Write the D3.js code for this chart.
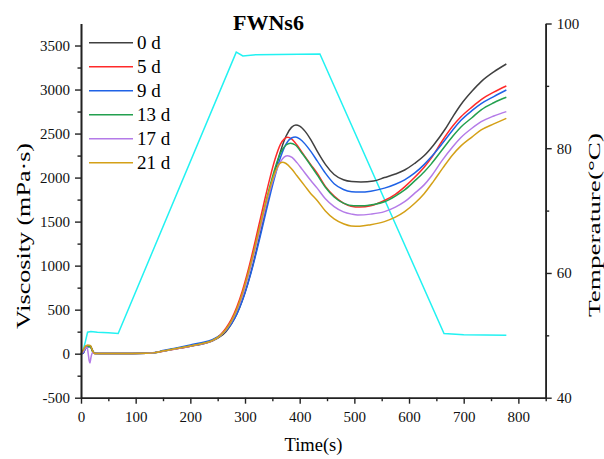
<!DOCTYPE html>
<html>
<head>
<meta charset="utf-8">
<script src="https://cdn.jsdelivr.net/npm/d3@7"></script>
<style>
  body { margin: 0; background: #fff; }
  text { font-family: "Liberation Serif", "Times New Roman", serif; }
</style>
</head>
<body>
<svg id="drawing_region"></svg>
<script>
// series labels and colours
const series_labels = ['0 d', '5 d', '9 d', '13 d', '17 d', '21 d'];
const series_colors = ['#404040', '#ff2a2a', '#1f62e6', '#23a04f', '#b47be8', '#d4a017'];

// viscosity (mPa·s) vs time (s)
const visc_0d = [[0,0],[4,10],[8,70],[12,92],[17,90],[21,40],[25,5],[40,3],[80,3],[120,5],[135,12],[150,30],[170,52],[200,85],[220,108],[240,142],[255,195],[265,250],[275,335],[285,450],[295,605],[305,795],[315,1025],[325,1285],[335,1555],[345,1825],[355,2075],[365,2300],[375,2470],[385,2570],[393,2597],[400,2585],[410,2525],[420,2435],[432,2300],[447,2150],[463,2035],[480,1975],[495,1955],[512,1950],[535,1960],[555,2000],[575,2040],[592,2086],[610,2160],[628,2250],[645,2370],[665,2540],[680,2690],[695,2830],[715,2980],[732,3090],[755,3200],[778,3290]];
const visc_5d = [[0,0],[4,5],[8,60],[12,85],[17,85],[21,30],[25,3],[40,2],[80,2],[120,4],[135,10],[150,28],[170,50],[200,85],[220,112],[240,150],[255,215],[265,290],[275,390],[285,530],[295,710],[305,930],[315,1180],[325,1450],[335,1720],[345,1980],[355,2210],[365,2380],[372,2440],[378,2458],[385,2440],[395,2370],[405,2280],[420,2150],[432,2050],[447,1900],[463,1790],[480,1710],[494,1675],[510,1665],[530,1680],[555,1740],[575,1810],[592,1895],[610,2000],[628,2120],[640,2215],[660,2410],[680,2585],[695,2690],[715,2800],[732,2885],[755,2970],[778,3040]];
const visc_9d = [[0,0],[4,5],[8,55],[12,80],[17,80],[21,30],[25,3],[40,2],[80,2],[120,5],[135,13],[150,35],[170,60],[200,100],[220,125],[240,160],[255,210],[265,260],[275,340],[285,450],[295,600],[305,790],[315,1010],[325,1260],[335,1520],[345,1780],[355,2020],[365,2230],[375,2380],[385,2450],[392,2460],[400,2440],[410,2380],[420,2300],[432,2190],[447,2050],[463,1930],[480,1865],[495,1840],[510,1835],[530,1845],[555,1880],[575,1925],[592,1975],[610,2050],[628,2150],[640,2230],[660,2380],[680,2540],[695,2650],[715,2760],[732,2840],[755,2920],[778,2995]];
const visc_13d = [[0,0],[4,30],[8,60],[12,80],[17,82],[21,30],[25,3],[40,2],[80,2],[120,4],[135,11],[150,30],[170,52],[200,88],[220,112],[240,148],[255,205],[265,270],[275,365],[285,495],[295,665],[305,880],[315,1120],[325,1380],[335,1640],[345,1890],[355,2110],[365,2280],[375,2370],[383,2390],[392,2370],[405,2270],[420,2140],[432,2030],[447,1890],[463,1780],[480,1710],[499,1680],[515,1680],[535,1695],[555,1726],[575,1790],[592,1860],[610,1960],[628,2067],[640,2150],[660,2310],[680,2470],[695,2575],[715,2680],[732,2770],[755,2850],[778,2912]];
const visc_17d = [[0,0],[4,20],[8,60],[11,75],[13,10],[15,-80],[16.5,-105],[18,-50],[21,10],[25,2],[40,2],[80,2],[120,4],[135,10],[150,28],[170,50],[200,85],[220,110],[240,146],[255,205],[265,268],[275,360],[285,490],[295,655],[305,865],[315,1100],[325,1350],[335,1600],[345,1840],[355,2040],[365,2180],[372,2235],[378,2249],[386,2230],[395,2170],[405,2090],[420,1970],[432,1880],[447,1760],[463,1670],[480,1610],[495,1585],[506,1575],[530,1585],[555,1613],[575,1665],[592,1726],[610,1820],[628,1920],[640,2010],[660,2190],[680,2350],[695,2455],[715,2560],[732,2635],[755,2700],[778,2749]];
const visc_21d = [[0,0],[4,40],[8,85],[12,95],[17,92],[21,35],[25,3],[40,2],[80,2],[120,4],[135,12],[150,30],[170,52],[200,88],[220,112],[240,148],[255,208],[265,275],[275,370],[285,505],[295,680],[305,895],[315,1130],[325,1390],[335,1640],[345,1870],[355,2060],[362,2150],[368,2174],[375,2160],[385,2100],[395,2020],[410,1900],[420,1820],[432,1740],[447,1620],[463,1530],[480,1475],[494,1450],[510,1448],[530,1465],[555,1500],[575,1550],[592,1613],[610,1705],[628,1820],[645,1960],[662,2110],[680,2260],[695,2360],[715,2460],[732,2541],[755,2610],[778,2673]];
const visc_series = [visc_0d, visc_5d, visc_9d, visc_13d, visc_17d, visc_21d];

// temperature (°C) vs time (s)
const temperature = [[3,47.3],[8,49.0],[12,50.5],[18,50.6],[30,50.5],[50,50.4],[68,50.3],[284,95.4],[296,94.8],[320,95.0],[437,95.1],[664,50.3],[700,50.1],[778,50.0]];

// axis ticks
const x_ticks = [0, 100, 200, 300, 400, 500, 600, 700, 800];
const x_minor = [50, 150, 250, 350, 450, 550, 650, 750, 850];
const y_ticks = [-500, 0, 500, 1000, 1500, 2000, 2500, 3000, 3500];
const y_minor = [-250, 250, 750, 1250, 1750, 2250, 2750, 3250];
const t_ticks = [40, 60, 80, 100];
const t_minor = [50, 70, 90];

class PastingChart {
    constructor( config ) {
        this.config = config;
        this.init();
    }
    init() {
        let self = this;
        self.svg = d3.select( self.config.parent )
            .attr('width', self.config.width)
            .attr('height', self.config.height);
        self.inner_width = self.config.width - self.config.margin.left - self.config.margin.right;
        self.inner_height = self.config.height - self.config.margin.top - self.config.margin.bottom;
        self.chart = self.svg.append('g')
            .attr('transform', `translate(${self.config.margin.left}, ${self.config.margin.top})`);

        self.xscale = d3.scaleLinear().domain([0, 850]).range([0, self.inner_width]);
        self.yscale = d3.scaleLinear().domain([-500, 3750]).range([self.inner_height, 0]);
        self.tscale = d3.scaleLinear().domain([40, 100]).range([self.inner_height, 0]);
    }
    render() {
        let self = this;
        const ih = self.inner_height, iw = self.inner_width;

        // temperature line
        const tline = d3.line()
            .x(d => self.xscale(d[0]))
            .y(d => self.tscale(d[1]));
        self.chart.append('path')
            .datum(temperature)
            .attr('fill', 'none')
            .attr('stroke', '#22f2f2')
            .attr('stroke-width', 1.5)
            .attr('d', tline);

        // viscosity lines
        const vline = d3.line()
            .curve(d3.curveMonotoneX)
            .x(d => self.xscale(d[0]))
            .y(d => self.yscale(d[1]));
        self.chart.selectAll('.visc')
            .data(visc_series)
            .enter()
            .append('path')
            .attr('class', 'visc')
            .attr('fill', 'none')
            .attr('stroke', (d, i) => series_colors[i])
            .attr('stroke-width', 1.5)
            .attr('d', vline);

        // axes
        const fmt = d => String(d);
        const style_axis = g => {
            g.attr('font-family', '"Liberation Serif", "Times New Roman", serif')
                .attr('font-size', 15);
            g.selectAll('.domain').attr('stroke', '#222').attr('stroke-width', 1.6);
            g.selectAll('.tick line').attr('stroke', '#222').attr('stroke-width', 1.4);
            g.selectAll('.tick text').attr('fill', '#111');
        };
        self.chart.append('g')
            .attr('transform', `translate(0, ${ih})`)
            .call(d3.axisBottom(self.xscale).tickValues(x_minor).tickSize(3.5).tickSizeOuter(0).tickFormat(''))
            .call(style_axis);
        self.chart.append('g')
            .attr('transform', `translate(0, ${ih})`)
            .call(d3.axisBottom(self.xscale).tickValues(x_ticks).tickSize(6).tickPadding(8).tickSizeOuter(0).tickFormat(fmt))
            .call(style_axis);
        self.chart.append('g')
            .call(d3.axisLeft(self.yscale).tickValues(y_minor).tickSize(3.5).tickSizeOuter(0).tickFormat(''))
            .call(style_axis);
        self.chart.append('g')
            .call(d3.axisLeft(self.yscale).tickValues(y_ticks).tickSize(6).tickPadding(5).tickSizeOuter(0).tickFormat(fmt))
            .call(style_axis);
        self.chart.append('g')
            .attr('transform', `translate(${iw}, 0)`)
            .call(d3.axisRight(self.tscale).tickValues(t_minor).tickSize(3.5).tickSizeOuter(0).tickFormat(''))
            .call(style_axis);
        self.chart.append('g')
            .attr('transform', `translate(${iw}, 0)`)
            .call(d3.axisRight(self.tscale).tickValues(t_ticks).tickSize(6).tickPadding(5).tickSizeOuter(0).tickFormat(fmt))
            .call(style_axis);

        // title
        self.svg.append('text')
            .attr('x', 268.5)
            .attr('y', 30)
            .attr('text-anchor', 'middle')
            .style('font-size', '22px')
            .style('font-weight', 'bold')
            .text(self.config.title);

        // axis labels (the rotated ones are stretched along their length in the original)
        self.svg.append('text')
            .attr('x', 313.5)
            .attr('y', 451)
            .attr('text-anchor', 'middle')
            .style('font-size', '18.5px')
            .text(self.config.xlabel);
        self.svg.append('text')
            .attr('transform', `translate(30, 236) rotate(-90)`)
            .attr('text-anchor', 'middle')
            .attr('textLength', 186)
            .attr('lengthAdjust', 'spacingAndGlyphs')
            .style('font-size', '18px')
            .text(self.config.ylabel);
        self.svg.append('text')
            .attr('transform', `translate(600, 225) rotate(-90)`)
            .attr('text-anchor', 'middle')
            .attr('textLength', 184)
            .attr('lengthAdjust', 'spacingAndGlyphs')
            .style('font-size', '16.5px')
            .text(self.config.tlabel);

        // legend
        const legend = self.svg.append('g');
        series_labels.forEach((lab, i) => {
            const y = 42.7 + i * 24;
            legend.append('line')
                .attr('x1', 89).attr('x2', 133)
                .attr('y1', y).attr('y2', y)
                .attr('stroke', series_colors[i])
                .attr('stroke-width', 1.5);
            legend.append('text')
                .attr('x', 137)
                .attr('y', y + 6.5)
                .style('font-size', '19px')
                .text(lab);
        });
    }
}

const chart = new PastingChart({
    parent: '#drawing_region',
    width: 604,
    height: 459,
    margin: {top: 23.5, right: 58.3, bottom: 61.3, left: 81},
    title: 'FWNs6',
    xlabel: 'Time(s)',
    ylabel: 'Viscosity (mPa·s)',
    tlabel: 'Temperature(°C)'
});
chart.render();
</script>
</body>
</html>
